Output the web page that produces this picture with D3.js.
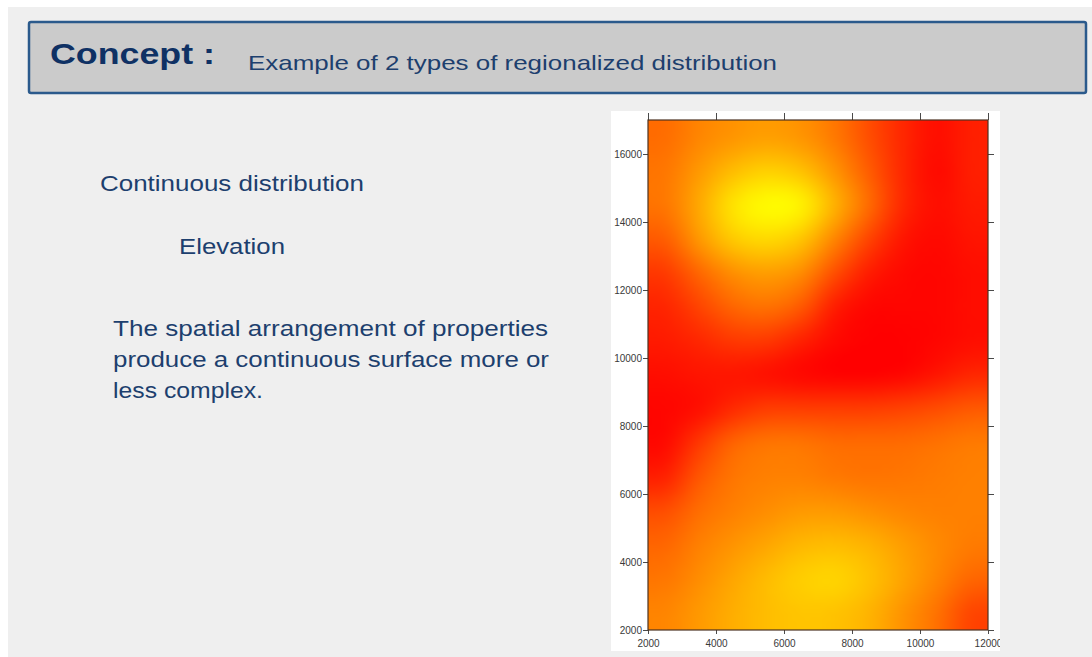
<!DOCTYPE html>
<html>
<head>
<meta charset="utf-8">
<script src="https://cdn.jsdelivr.net/npm/d3@7"></script>
<style>
  html, body { margin: 0; padding: 0; background: #ffffff; }
  svg { display: block; }
  text { font-family: "Liberation Sans", Arial, sans-serif; }
</style>
</head>
<body>
<svg id="slide" width="1092" height="657"></svg>
<script>
// Grid cell centres of the elevation surface (easting / northing)
const eastings = [2500, 3500, 4500, 5500, 6500, 7500, 8500, 9500, 10500, 11500];
const northings = [16500, 15500, 14500, 13500, 12500, 11500, 10500, 9500, 8500, 7500, 6500, 5500, 4500, 3500, 2500];

// Relative elevation (0 = low, 1 = high), one row per northing, north to south
const elevation = [
  [0.42, 0.52, 0.58, 0.62, 0.58, 0.47, 0.30, 0.15, 0.05, 0.12],
  [0.46, 0.60, 0.74, 0.82, 0.76, 0.58, 0.36, 0.15, 0.03, 0.12],
  [0.46, 0.66, 0.90, 1.00, 0.97, 0.70, 0.42, 0.15, 0.05, 0.10],
  [0.36, 0.60, 0.80, 0.86, 0.78, 0.52, 0.26, 0.08, 0.03, 0.08],
  [0.22, 0.40, 0.56, 0.62, 0.55, 0.30, 0.10, 0.03, 0.02, 0.05],
  [0.14, 0.26, 0.40, 0.45, 0.35, 0.10, 0.02, 0.02, 0.02, 0.05],
  [0.10, 0.15, 0.22, 0.22, 0.12, 0.03, 0.00, 0.00, 0.02, 0.05],
  [0.05, 0.08, 0.08, 0.05, 0.02, 0.00, 0.00, 0.02, 0.08, 0.15],
  [0.02, 0.05, 0.16, 0.24, 0.24, 0.24, 0.24, 0.26, 0.30, 0.35],
  [0.03, 0.22, 0.40, 0.46, 0.46, 0.42, 0.42, 0.42, 0.45, 0.48],
  [0.12, 0.34, 0.46, 0.50, 0.50, 0.47, 0.45, 0.46, 0.48, 0.50],
  [0.30, 0.43, 0.50, 0.55, 0.60, 0.60, 0.56, 0.52, 0.50, 0.50],
  [0.40, 0.50, 0.58, 0.65, 0.72, 0.74, 0.70, 0.62, 0.54, 0.48],
  [0.46, 0.55, 0.65, 0.74, 0.81, 0.84, 0.76, 0.64, 0.52, 0.40],
  [0.52, 0.60, 0.68, 0.74, 0.77, 0.76, 0.70, 0.57, 0.44, 0.26]
];

const xTicks = [2000, 4000, 6000, 8000, 10000, 12000];
const yTicks = [2000, 4000, 6000, 8000, 10000, 12000, 14000, 16000];

const titleText = "Concept :";
const subtitleText = "Example of 2 types of regionalized distribution";
const headingText = "Continuous distribution";
const variableText = "Elevation";
const bodyLines = [
  "The spatial arrangement of properties",
  "produce a continuous surface more or",
  "less complex."
];

const svg = d3.select("#slide");
const navy = "#1d3f6e";

// Slide background
svg.append("rect").attr("x", 8).attr("y", 7).attr("width", 1084).attr("height", 650).attr("fill", "#efefef");

// Header band
svg.append("rect")
  .attr("x", 29).attr("y", 22).attr("width", 1057).attr("height", 71).attr("rx", 2)
  .attr("fill", "#cbcbcb").attr("stroke", "#2b5a8c").attr("stroke-width", 2.5);

svg.append("text").text(titleText)
  .attr("x", 50).attr("y", 64)
  .attr("font-size", 30).attr("font-weight", "bold").attr("fill", "#0f3164")
  .attr("textLength", 165).attr("lengthAdjust", "spacingAndGlyphs");

svg.append("text").text(subtitleText)
  .attr("x", 248).attr("y", 70)
  .attr("font-size", 21).attr("fill", navy)
  .attr("textLength", 529).attr("lengthAdjust", "spacingAndGlyphs");

// Left-hand description
svg.append("text").text(headingText)
  .attr("x", 100).attr("y", 191)
  .attr("font-size", 22).attr("fill", navy)
  .attr("textLength", 264).attr("lengthAdjust", "spacingAndGlyphs");

svg.append("text").text(variableText)
  .attr("x", 179).attr("y", 254)
  .attr("font-size", 22).attr("fill", navy)
  .attr("textLength", 106).attr("lengthAdjust", "spacingAndGlyphs");

const bodyWidths = [435, 436, 150];
svg.selectAll("text.body").data(bodyLines).join("text")
  .attr("class", "body")
  .text(d => d)
  .attr("x", 113).attr("y", (d, i) => 336 + i * 31)
  .attr("font-size", 22).attr("fill", navy)
  .attr("textLength", (d, i) => bodyWidths[i]).attr("lengthAdjust", "spacingAndGlyphs");

// Map panel
const frame = { x: 611, y: 111, w: 389, h: 540 };
svg.append("defs").append("clipPath").attr("id", "frameClip")
  .append("rect").attr("x", frame.x).attr("y", frame.y).attr("width", frame.w).attr("height", frame.h);

svg.append("rect").attr("x", frame.x).attr("y", frame.y).attr("width", frame.w).attr("height", frame.h).attr("fill", "#ffffff");

const x = d3.scaleLinear().domain([2000, 12000]).range([648, 988]);
const y = d3.scaleLinear().domain([2000, 17000]).range([630, 120]);

const color = d3.scaleLinear().domain([0, 0.5, 1]).range(["#ff0000", "#ff8000", "#ffff00"]).clamp(true);

// Raster of the grid, one pixel per cell, smoothed when scaled up to the map extent
const nx = eastings.length, ny = northings.length;
const cellW = eastings[1] - eastings[0];
const cellH = northings[0] - northings[1];
const small = document.createElement("canvas");
small.width = nx; small.height = ny;
const sctx = small.getContext("2d");
const img = sctx.createImageData(nx, ny);
elevation.forEach((row, j) => row.forEach((v, i) => {
  const c = d3.rgb(color(v));
  const k = (j * nx + i) * 4;
  img.data[k] = c.r; img.data[k + 1] = c.g; img.data[k + 2] = c.b; img.data[k + 3] = 255;
}));
sctx.putImageData(img, 0, 0);

const x0 = x(eastings[0] - cellW / 2), x1 = x(eastings[nx - 1] + cellW / 2);
const y0 = y(northings[0] + cellH / 2), y1 = y(northings[ny - 1] - cellH / 2);
const pw = Math.round(x1 - x0), ph = Math.round(y1 - y0);

const mid = document.createElement("canvas");
mid.width = nx * 8; mid.height = ny * 8;
const mctx = mid.getContext("2d");
mctx.imageSmoothingEnabled = true;
mctx.imageSmoothingQuality = "high";
mctx.drawImage(small, 0, 0, mid.width, mid.height);

const big = document.createElement("canvas");
big.width = pw; big.height = ph;
const bctx = big.getContext("2d");
bctx.imageSmoothingEnabled = true;
bctx.imageSmoothingQuality = "high";
bctx.drawImage(mid, 0, 0, pw, ph);

svg.append("image")
  .attr("x", x0).attr("y", y0).attr("width", x1 - x0).attr("height", y1 - y0)
  .attr("preserveAspectRatio", "none")
  .attr("href", big.toDataURL());

// Axes on all four sides
const tickColor = "#4a4a4a";
function styleAxis(g) {
  g.select(".domain").remove();
  g.selectAll(".tick line").attr("stroke", tickColor);
  g.selectAll(".tick text").attr("fill", "#3a3a3a").attr("font-family", "'Liberation Sans', Arial, sans-serif");
}

svg.append("g").attr("transform", `translate(${x(2000)},0)`)
  .call(d3.axisLeft(y).tickValues(yTicks).tickSize(5).tickPadding(1).tickFormat(d3.format("d")))
  .attr("font-size", 10)
  .call(styleAxis);

// Bottom labels are cut off at the edge of the white panel
svg.append("g").attr("clip-path", "url(#frameClip)")
  .append("g").attr("transform", `translate(0,${y(2000)})`)
  .call(d3.axisBottom(x).tickValues(xTicks).tickSize(4).tickPadding(6).tickFormat(d3.format("d")))
  .attr("font-size", 10)
  .call(styleAxis);

svg.append("g").attr("transform", `translate(0,${y(17000)})`)
  .call(d3.axisTop(x).tickValues(xTicks).tickSize(7).tickFormat(""))
  .call(styleAxis);

svg.append("g").attr("transform", `translate(${x(12000)},0)`)
  .call(d3.axisRight(y).tickValues(yTicks).tickSize(6).tickFormat(""))
  .call(styleAxis);

// Map border
svg.append("rect")
  .attr("x", x(2000)).attr("y", y(17000))
  .attr("width", x(12000) - x(2000)).attr("height", y(2000) - y(17000))
  .attr("fill", "none").attr("stroke", "#4b3322").attr("stroke-width", 1.2);
</script>
</body>
</html>
